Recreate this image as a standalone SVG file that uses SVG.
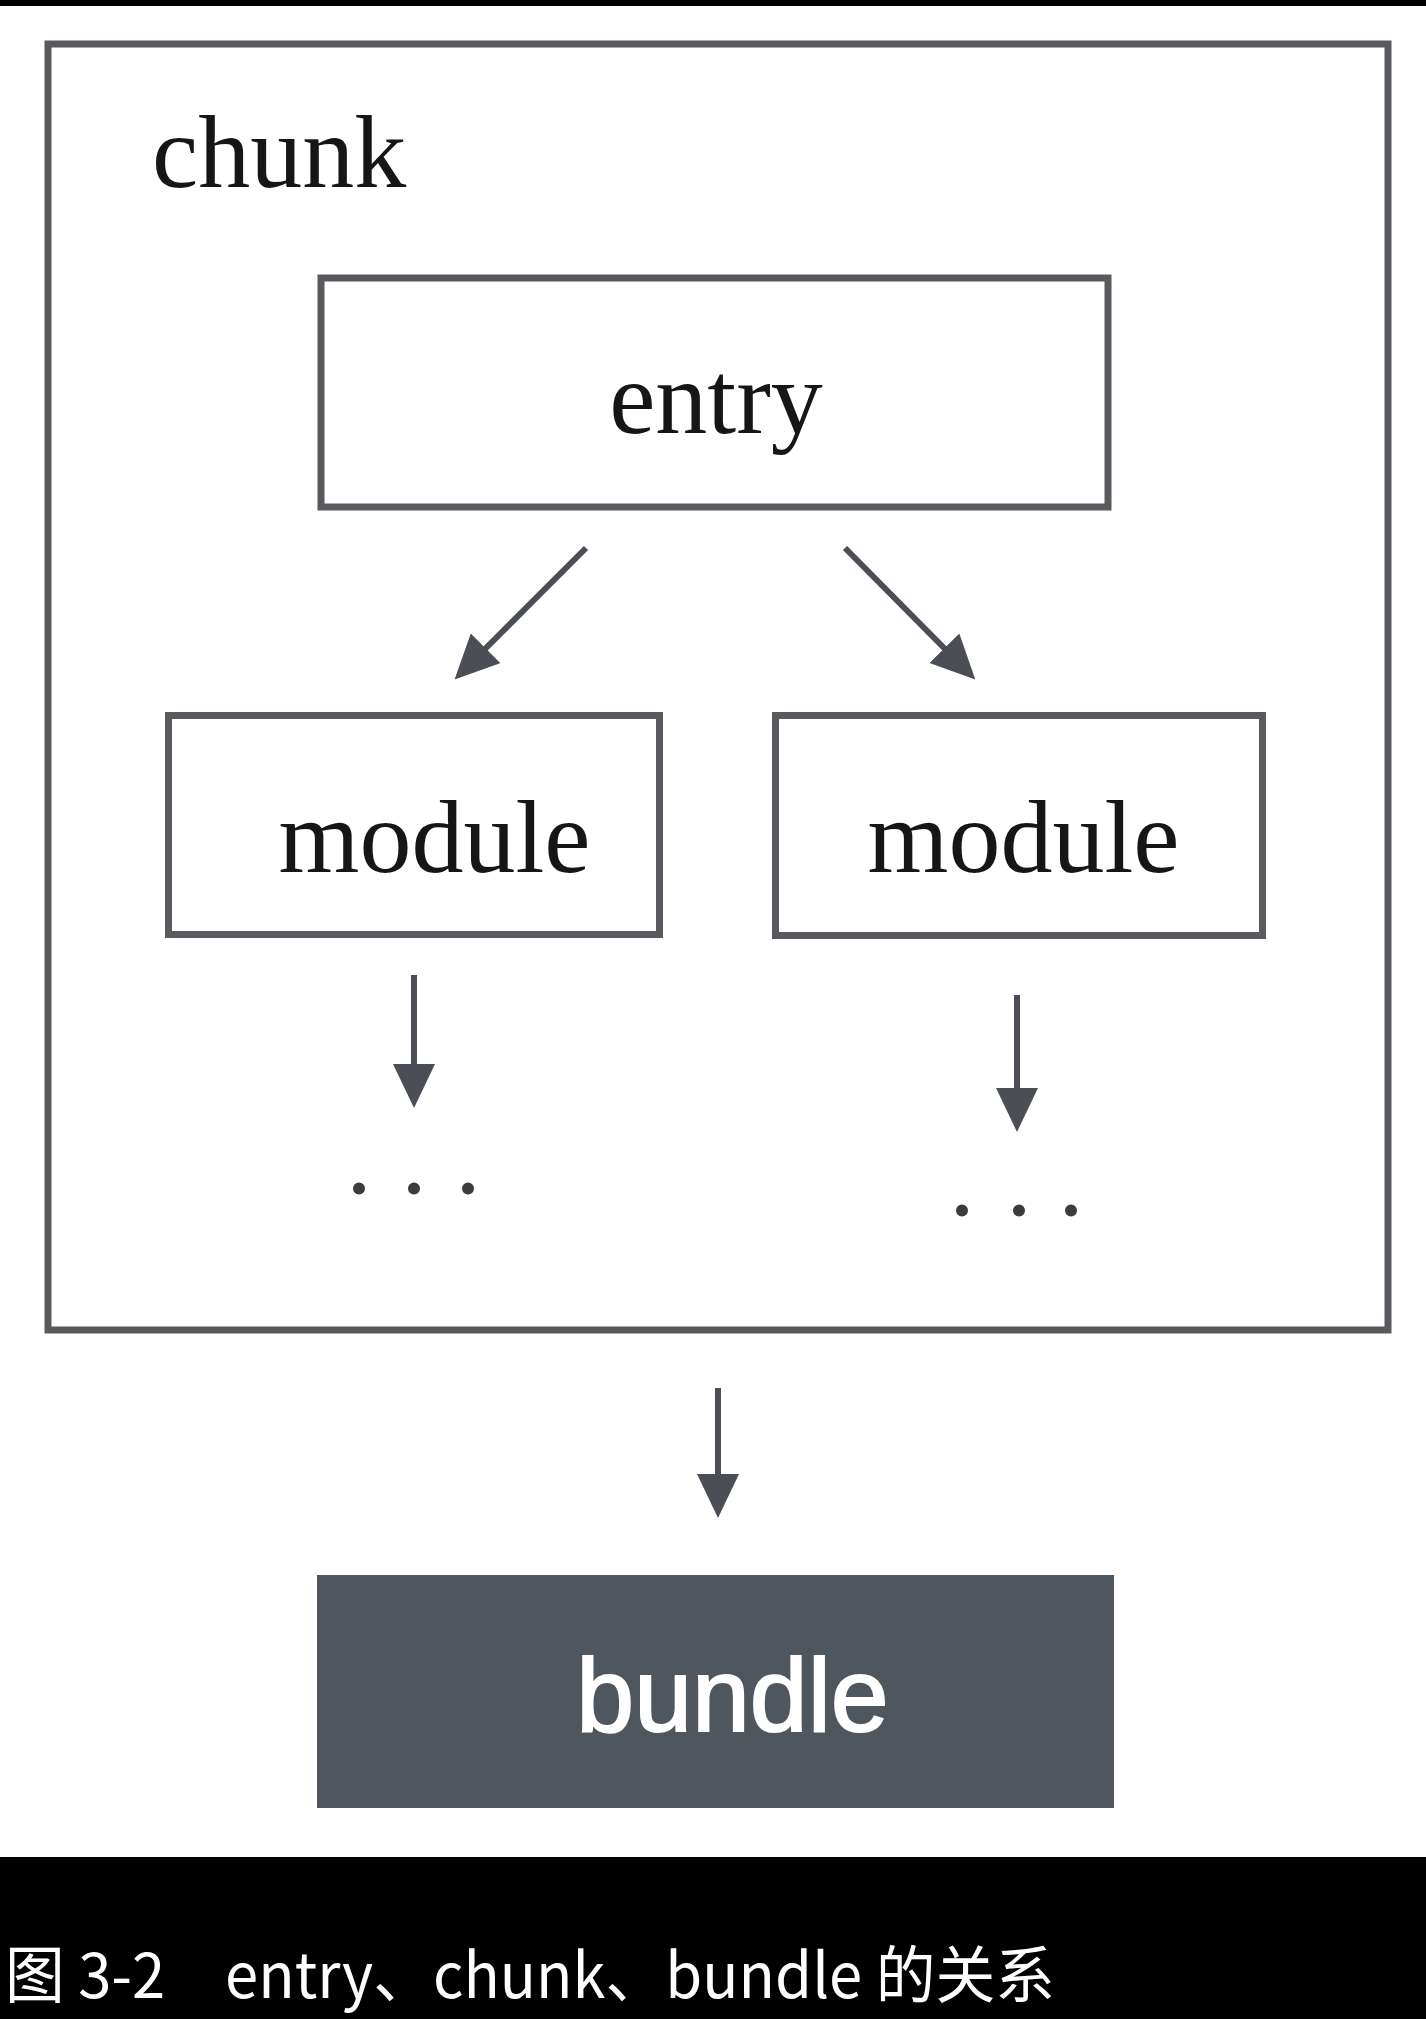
<svg xmlns="http://www.w3.org/2000/svg" width="1426" height="2019" viewBox="0 0 1426 2019">
  <defs>
    <style>
      .box { fill: #ffffff; stroke: #5a595e; stroke-width: 7; }
      .serif { font-family: "Liberation Serif", "Times New Roman", serif; fill: #161616; }
      .lbl { font-size: 104px; text-anchor: middle; }
      .dots { font-family: "Liberation Serif", serif; font-size: 74px; font-weight: bold; fill: #3c3c40; text-anchor: middle; }
      .conn { stroke: #4b4e54; stroke-width: 6; fill: none; }
      .cap { font-family: "Noto Sans CJK SC", "Noto Sans", sans-serif; font-size: 62px; fill: #ffffff; }
    </style>
    <marker id="arrow" markerUnits="userSpaceOnUse" markerWidth="46" markerHeight="44" refX="8" refY="21" orient="auto">
      <path d="M0,0 L44,21 L0,42 Z" fill="#4b4e54"/>
    </marker>
  </defs>

  <rect x="0" y="0" width="1426" height="2019" fill="#ffffff"/>
  <rect x="0" y="0" width="1426" height="6" fill="#000000"/>

  <g id="chunk">
    <rect class="box" x="48" y="44" width="1340" height="1286"/>
    <text class="serif" x="152" y="187" font-size="104">chunk</text>
  </g>

  <g id="entry">
    <rect class="box" x="321" y="278" width="787" height="229"/>
    <text class="serif lbl" x="716" y="433">entry</text>
  </g>

  <g id="module-left">
    <rect class="box" x="168.5" y="715.5" width="491" height="219"/>
    <text class="serif lbl" x="434.5" y="872">module</text>
  </g>

  <g id="module-right">
    <rect class="box" x="775.5" y="715.5" width="487" height="220"/>
    <text class="serif lbl" x="1023.5" y="872">module</text>
  </g>

  <g id="dots-left">
    <text class="dots" x="359 414 468" y="1194">...</text>
  </g>
  <g id="dots-right">
    <text class="dots" x="962 1019 1071" y="1216">...</text>
  </g>

  <g id="bundle">
    <rect x="317" y="1575" width="797" height="233" fill="#50565e"/>
    <text x="732.5" y="1731" font-family="Liberation Sans, Arial, sans-serif" font-size="104" fill="#ffffff" stroke="#ffffff" stroke-width="2" text-anchor="middle">bundle</text>
  </g>

  <g id="connectors">
    <line class="conn" x1="586" y1="548" x2="480" y2="654" marker-end="url(#arrow)"/>
    <line class="conn" x1="845" y1="548" x2="950" y2="654" marker-end="url(#arrow)"/>
    <line class="conn" x1="414" y1="975" x2="414" y2="1072" stroke-width="5" marker-end="url(#arrow)"/>
    <line class="conn" x1="1017" y1="995" x2="1017" y2="1096" marker-end="url(#arrow)"/>
    <line class="conn" x1="718" y1="1388" x2="718" y2="1482" marker-end="url(#arrow)"/>
  </g>

  <g id="caption">
    <rect x="0" y="1857" width="1426" height="162" fill="#000000"/>
    <text class="cap" x="5" y="1998" textLength="1050" lengthAdjust="spacingAndGlyphs">图 3-2　entry、chunk、bundle 的关系</text>
  </g>
</svg>
